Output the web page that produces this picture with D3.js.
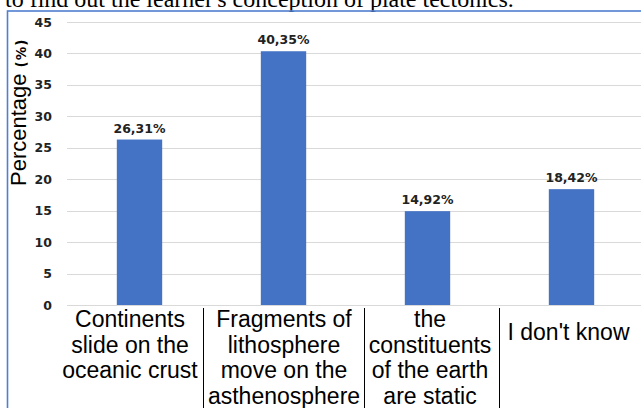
<!DOCTYPE html>
<html>
<head>
<meta charset="utf-8">
<script src="https://cdn.jsdelivr.net/npm/d3@7"></script>
<style>
  body { margin: 0; background: #fff; }
  svg { display: block; }
</style>
</head>
<body>
<svg width="641" height="408"></svg>
<script>
// chart data
var categories = ["Continents slide on the oceanic crust", "Fragments of lithosphere move on the asthenosphere",
                  "the constituents of the earth are static", "I don't know"];
var labelLines = [["Continents", "slide on the", "oceanic crust"],
                  ["Fragments of", "lithosphere", "move on the", "asthenosphere"],
                  ["the", "constituents", "of the earth", "are static"],
                  ["I don't know"]];
var values = [26.31, 40.35, 14.92, 18.42];
var valueLabels = ["26,31%", "40,35%", "14,92%", "18,42%"];
var yTicks = [0, 5, 10, 15, 20, 25, 30, 35, 40, 45];

// layout tweaks (label boxes are not centred on the bars in the original)
var labelShift = [-9.5, 0.5, 2.5, -3];

var svg = d3.select("svg"),
    width = +svg.attr("width"),
    height = +svg.attr("height");

var tickFont = "'DejaVu Sans', Verdana, sans-serif",
    catFont = "'Liberation Sans', Arial, sans-serif";

// caption line of the surrounding document, cut off at the top
svg.append("text")
    .attr("x", 5)
    .attr("y", 7)
    .style("font-family", "'Liberation Serif', 'Times New Roman', serif")
    .style("font-size", "24px")
    .style("fill", "#000")
    .text("to find out the learner's conception of plate tectonics.");

// chart frame
svg.append("rect")
    .attr("x", 7.5)
    .attr("y", 11)
    .attr("width", 700)
    .attr("height", 500)
    .attr("fill", "none")
    .attr("stroke", "#4f7fd0")
    .attr("stroke-width", 1.6);

var y = d3.scaleLinear().domain([0, 45]).range([305, 22]);
var x = d3.scaleBand()
    .domain(categories)
    .range([67.5, 643.5])
    .paddingInner(0.685)
    .paddingOuter(0.3425);

// gridlines
svg.append("g")
  .selectAll("line")
  .data(yTicks)
  .enter().append("line")
    .attr("x1", 67)
    .attr("x2", width)
    .attr("y1", d => Math.round(y(d)) + 0.5)
    .attr("y2", d => Math.round(y(d)) + 0.5)
    .attr("stroke", "#d9d9d9")
    .attr("stroke-width", 1);

// y tick labels
svg.append("g")
  .selectAll("text")
  .data(yTicks)
  .enter().append("text")
    .attr("x", 52)
    .attr("y", d => y(d))
    .attr("dy", "0.36em")
    .attr("text-anchor", "end")
    .style("font-family", tickFont)
    .style("font-weight", "bold")
    .style("font-size", "12.5px")
    .style("fill", "#222")
    .text(d => d);

// bars
svg.append("g")
  .selectAll("rect")
  .data(values)
  .enter().append("rect")
    .attr("x", (d, i) => x(categories[i]))
    .attr("y", d => y(d))
    .attr("width", x.bandwidth())
    .attr("height", d => y(0) - y(d))
    .attr("fill", "#4472c4");

// value labels
svg.append("g")
  .selectAll("text")
  .data(values)
  .enter().append("text")
    .attr("x", (d, i) => x(categories[i]) + x.bandwidth() / 2)
    .attr("y", d => y(d) - 7)
    .attr("text-anchor", "middle")
    .style("font-family", tickFont)
    .style("font-weight", "bold")
    .style("font-size", "12.5px")
    .style("fill", "#222")
    .text((d, i) => valueLabels[i]);

// category labels
var catLabel = svg.append("g")
  .selectAll("text")
  .data(categories)
  .enter().append("text")
    .attr("text-anchor", "middle")
    .attr("transform", (d, i) => "translate(" + (x(d) + x.bandwidth() / 2 + labelShift[i]) + "," +
                                 (labelLines[i].length === 1 ? 340 : 327) + ")")
    .style("font-family", catFont)
    .style("font-size", "23px")
    .style("fill", "#000");

catLabel.each(function(d, i) {
  var t = d3.select(this);
  labelLines[i].forEach(function(line, j) {
    t.append("tspan").attr("x", 0).attr("y", j * 25.5).text(line);
  });
});

// separators between label boxes
var boxes = [];
catLabel.each(function(d, i) {
  var b = this.getBBox();
  var cx = x(d) + x.bandwidth() / 2 + labelShift[i];
  boxes.push([cx + b.x, cx + b.x + b.width]);
});
var seps = d3.range(1, boxes.length).map(i => (boxes[i - 1][1] + boxes[i][0]) / 2);
svg.append("g")
  .selectAll("line")
  .data(seps)
  .enter().append("line")
    .attr("x1", d => Math.round(d) + 0.5)
    .attr("x2", d => Math.round(d) + 0.5)
    .attr("y1", 308)
    .attr("y2", height)
    .attr("stroke", "#000")
    .attr("stroke-width", 1);

// y axis title
var title = svg.append("text")
    .attr("transform", "translate(26,186) rotate(-90)")
    .style("font-family", catFont)
    .style("font-size", "22px")
    .style("fill", "#000");
title.append("tspan").text("Percentage");
title.append("tspan")
    .attr("dx", 6)
    .style("font-family", tickFont)
    .style("font-weight", "bold")
    .style("font-size", "13.5px")
    .style("letter-spacing", "1px")
    .text("(%)");
</script>
</body>
</html>
